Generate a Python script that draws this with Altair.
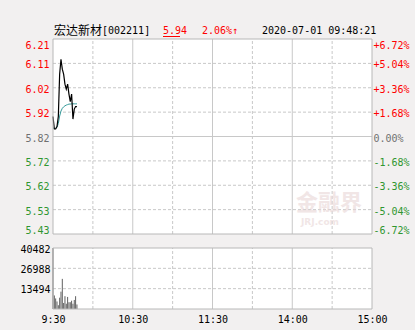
import altair as alt
import pandas as pd

# ---------------- data ----------------
PREV_CLOSE = 5.82
PCT_LIMIT = 6.72
VOL_MAX = 40482

minute = list(range(19))
price = [5.90, 5.85, 5.85, 5.86, 5.90, 6.07, 6.13, 6.09, 6.07, 6.03, 6.01,
         6.03, 5.99, 5.96, 5.99, 5.89, 5.93, 5.94, 5.94]
avg_price = [5.855, 5.852, 5.853, 5.857, 5.872, 5.902, 5.922, 5.933, 5.939,
             5.943, 5.946, 5.948, 5.950, 5.950, 5.951, 5.951, 5.951, 5.951, 5.951]
volume = [40482, 9000, 7000, 5000, 2500, 7500, 11500, 20000, 4000, 8500, 3500,
          8000, 4500, 4500, 5500, 3500, 6000, 8500, 3000]

pct_ticks = [6.72, 5.04, 3.36, 1.68, 0.0, -1.68, -3.36, -5.04, -6.72]
vol_ticks = [13494, 26988, 40482]
time_ticks = [0, 60, 120, 180, 240]
time_labels = ["9:30", "10:30", "11:30", "14:00", "15:00"]
half_hours = [30, 60, 90, 120, 150, 180, 210]
hour_marks = [60, 120, 180]

title_name = "宏达新材"
title_code = "[002211]"
last_price = "5.94"
change_pct = "2.06%↑"
timestamp = "2020-07-01 09:48:21"
watermark = "金融界"
watermark_sub = "JRJ.com"

# ---------------- styles ----------------
BG = "#f2f0f0"
RED = "#ff0000"
GREEN = "#2f962f"
GREY = "#707070"
GRID = "#c8c8c8"
BORDER = "#b8b8b8"
MONO = "DejaVu Sans Mono"
CJK = "Noto Sans CJK SC"
FS = 10

lo = PREV_CLOSE * (1 - PCT_LIMIT / 100)
hi = PREV_CLOSE * (1 + PCT_LIMIT / 100)

xs = alt.Scale(domain=[0, 240], range=[53, 372], nice=False, zero=False)
ps = alt.Scale(domain=[lo, hi], range=[234, 39], nice=False, zero=False)
pcs = alt.Scale(domain=[-PCT_LIMIT, PCT_LIMIT], range=[234, 39], nice=False, zero=False)
vs = alt.Scale(domain=[0, VOL_MAX], range=[309, 248], nice=False, zero=False)

x_axis = alt.Axis(
    orient="bottom", offset=-21, values=time_ticks,
    labelExpr="%s[indexof(%s, datum.value)]" % (str(time_labels), str(time_ticks)),
    domain=False, ticks=False, grid=False, title=None,
    labelFont=MONO, labelFontSize=FS, labelColor="black", labelPadding=5,
    labelFlush=False, labelOverlap=False,
)
XX = alt.X("m:Q", scale=xs, axis=x_axis)

price_axis = alt.Axis(
    orient="left", offset=-53,
    values=[PREV_CLOSE * (1 + p / 100) for p in pct_ticks], format=".2f",
    labelColor={"condition": [
        {"test": "datum.value > %f" % (PREV_CLOSE + 1e-4), "value": RED},
        {"test": "datum.value < %f" % (PREV_CLOSE - 1e-4), "value": GREEN}],
        "value": GREY},
    domain=False, ticks=False, grid=False, title=None,
    labelFont=MONO, labelFontSize=FS, labelPadding=4, labelFlush=True,
    labelOffset=1.5,
)
pct_axis = alt.Axis(
    orient="right", offset=-43, values=pct_ticks,
    labelExpr="(datum.value > 0 ? '+' : datum.value < 0 ? '-' : '') + format(abs(datum.value), '.2f') + '%'",
    labelColor={"condition": [
        {"test": "datum.value > 0.0001", "value": RED},
        {"test": "datum.value < -0.0001", "value": GREEN}],
        "value": GREY},
    domain=False, ticks=False, grid=False, title=None,
    labelFont=MONO, labelFontSize=FS, labelPadding=1, labelFlush=True,
    labelOffset=1.5,
)
vol_axis = alt.Axis(
    orient="left", offset=-53, values=vol_ticks, format="d",
    domain=False, ticks=False, grid=False, title=None,
    labelFont=MONO, labelFontSize=FS, labelColor="black", labelPadding=3,
    labelFlush=False, labelOffset=1,
)

# ---------------- frames ----------------
price_df = pd.DataFrame({"m": minute, "p": price, "a": avg_price})
vol_df = pd.DataFrame({"m": minute, "v": volume, "v0": [0] * len(minute)})
panel_p = pd.DataFrame({"m": [0], "m2": [240], "y": [lo], "y2": [hi]})
panel_v = pd.DataFrame({"m": [0], "m2": [240], "y": [0], "y2": [VOL_MAX]})

pct_inner = [p for p in pct_ticks if abs(p) < PCT_LIMIT - 1e-9]
h_dash = pd.DataFrame({"m": 0, "m2": 240, "pc": [p for p in pct_inner if p != 0]})
h_solid = pd.DataFrame({"m": 0, "m2": 240, "pc": [0.0]})
h_axis = pd.DataFrame({"m": 0, "m2": 240, "pc": pct_ticks})
v_dash_p = pd.DataFrame({"m": [h for h in half_hours if h not in hour_marks], "y": lo, "y2": hi})
v_solid_p = pd.DataFrame({"m": hour_marks, "y": lo, "y2": hi})
v_dash_v = pd.DataFrame({"m": [h for h in half_hours if h not in hour_marks], "y": 0, "y2": VOL_MAX})
v_solid_v = pd.DataFrame({"m": hour_marks, "y": 0, "y2": VOL_MAX})
vh_dash = pd.DataFrame({"m": 0, "m2": 240, "y": vol_ticks[:-1]})

def YP(field, scale=ps, axis=None):
    return alt.Y(field, scale=scale, axis=axis)

layers = []
# panel backgrounds
layers.append(alt.Chart(panel_p).mark_rect(fill="white", strokeWidth=0).encode(
    x=XX, x2="m2", y=YP("y:Q"), y2="y2"))
layers.append(alt.Chart(panel_v).mark_rect(fill="white", strokeWidth=0).encode(
    x=XX, x2="m2", y=YP("y:Q", vs), y2="y2"))
# grid
layers.append(alt.Chart(h_dash).mark_rule(color=GRID, strokeDash=[3, 2], strokeWidth=1).encode(
    x=XX, x2="m2", y=YP("pc:Q", pcs)))
layers.append(alt.Chart(h_solid).mark_rule(color=GRID, strokeWidth=1).encode(
    x=XX, x2="m2", y=YP("pc:Q", pcs)))
layers.append(alt.Chart(h_axis).mark_rule(opacity=0).encode(
    x=XX, x2="m2", y=YP("pc:Q", pcs, pct_axis)))
layers.append(alt.Chart(v_dash_p).mark_rule(color=GRID, strokeDash=[3, 2], strokeWidth=1).encode(
    x=XX, y=YP("y:Q"), y2="y2"))
layers.append(alt.Chart(v_solid_p).mark_rule(color=GRID, strokeWidth=1).encode(
    x=XX, y=YP("y:Q"), y2="y2"))
layers.append(alt.Chart(v_dash_v).mark_rule(color=GRID, strokeDash=[3, 2], strokeWidth=1).encode(
    x=XX, y=YP("y:Q", vs), y2="y2"))
layers.append(alt.Chart(v_solid_v).mark_rule(color=GRID, strokeWidth=1).encode(
    x=XX, y=YP("y:Q", vs), y2="y2"))
layers.append(alt.Chart(vh_dash).mark_rule(color=GRID, strokeDash=[3, 2], strokeWidth=1).encode(
    x=XX, x2="m2", y=YP("y:Q", vs)))
# watermark
layers.append(alt.Chart(pd.DataFrame({"t": [watermark]})).mark_text(
    font=CJK, fontSize=22, fontWeight="bold", color="#e9d6d6", opacity=0.6,
    align="left", baseline="middle").encode(
    text="t:N", x=alt.value(296), y=alt.value(203)))
layers.append(alt.Chart(pd.DataFrame({"t": [watermark_sub]})).mark_text(
    font="DejaVu Sans", fontSize=9, fontWeight="bold", color="#e9d6d6", opacity=0.6,
    align="left", baseline="middle").encode(
    text="t:N", x=alt.value(301), y=alt.value(222)))
# data
layers.append(alt.Chart(vol_df).mark_rule(color="#606060", strokeWidth=1).encode(
    x=XX, y=YP("v:Q", vs, vol_axis), y2="v0"))
layers.append(alt.Chart(price_df).mark_line(color="#339999", strokeWidth=1).encode(
    x=XX, y=YP("a:Q")))
layers.append(alt.Chart(price_df).mark_line(color="black", strokeWidth=1.2).encode(
    x=XX, y=YP("p:Q", ps, price_axis)))
# borders
layers.append(alt.Chart(panel_p).mark_rect(fillOpacity=0, stroke=BORDER, strokeWidth=1).encode(
    x=XX, x2="m2", y=YP("y:Q"), y2="y2"))
layers.append(alt.Chart(panel_v).mark_rect(fillOpacity=0, stroke=BORDER, strokeWidth=1).encode(
    x=XX, x2="m2", y=YP("y:Q", vs), y2="y2"))

# header
def header(txt, x, color="black", font=MONO, size=FS):
    return alt.Chart(pd.DataFrame({"t": [txt]})).mark_text(
        font=font, fontSize=size, color=color, align="left", baseline="middle").encode(
        text="t:N", x=alt.value(x), y=alt.value(31))

layers.append(header(title_name, 54, font=CJK, size=12))
layers.append(header(title_code, 102))
layers.append(header(last_price, 163, color=RED))
layers.append(header(change_pct, 202, color=RED))
layers.append(header(timestamp, 262))
layers.append(alt.Chart(pd.DataFrame({"t": [last_price]})).mark_rule(color=RED, strokeWidth=1).encode(
    x=alt.value(163), x2=alt.value(180), y=alt.value(36.5)))

chart = alt.layer(*layers).resolve_scale(y="independent").properties(
    width=415, height=330, padding=0,
    autosize=alt.AutoSizeParams(type="none"), background=BG,
).configure_view(stroke=None)

chart.save("out.html", embed_options={"renderer": "svg", "actions": False})
